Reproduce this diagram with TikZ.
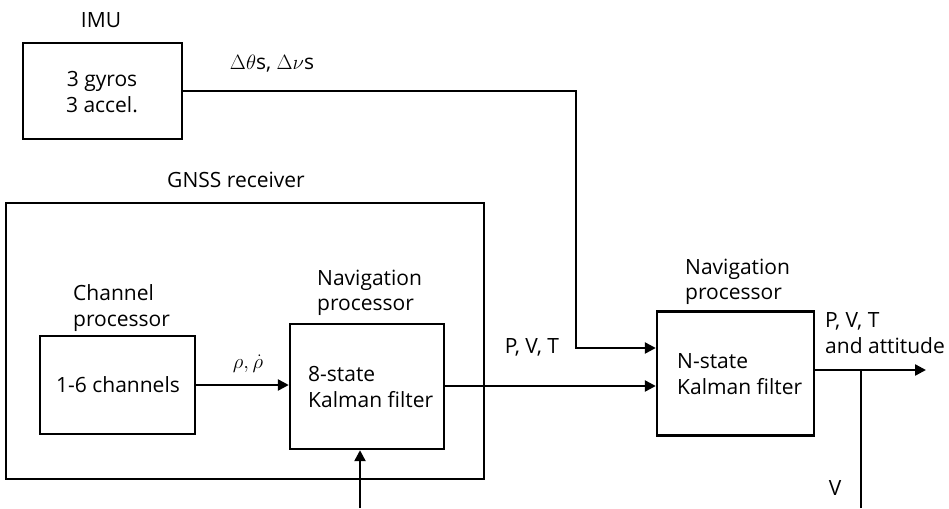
\documentclass[tikz,border=0pt]{standalone}
\usepackage{fontspec}
\setmainfont{Open Sans}
\usetikzlibrary{arrows.meta}
\begin{document}
\begin{tikzpicture}[x=1pt,y=-1pt,
  every node/.style={font=\fontsize{21}{25.5}\selectfont, inner sep=0pt},
  blk/.style={draw, line width=2.4pt, minimum width=#1},
  lbl/.style={align=left, anchor=west},
  ctr/.style={align=center},
  conn/.style={line width=2.4pt},
  arr/.style={conn, -{Triangle[length=11pt,width=11pt]}}]
\useasboundingbox (0,0) rectangle (949,508);
% boxes
\node[blk=159pt, minimum height=96pt] (imu) at (102.5,91) {};
\node[blk=478pt, minimum height=276pt] (gnss) at (245,341) {};
\node[blk=155pt, minimum height=98pt] (chan) at (117.5,385) {};
\node[blk=154pt, minimum height=125pt] (nav) at (367,386.5) {};
\node[blk=157pt, minimum height=124pt] (nst) at (735.5,373.5) {};
% texts
\node (timu) at (101,20) {IMU};
\node[ctr] (tgy) at (102,92) {3 gyros\\3 accel.};
\node (tdel) at (272,64) {$\Delta\theta$s, $\Delta\nu$s};
\node (tgnss) at (236,180) {GNSS receiver};
\node[lbl] (tchp) at (73,308) {Channel\\processor};
\node (tch) at (118,385) {1-6 channels};
\node[lbl] (tnp1) at (317,293) {Navigation\\processor};
\node[lbl] (tkf1) at (308,387) {8-state\\Kalman filter};
\node (trho) at (248,364) {$\rho,\dot{\rho}$};
\node (tpvt) at (532,347) {P, V, T};
\node[lbl] (tnp2) at (685,282) {Navigation\\processor};
\node[lbl] (tkf2) at (677,374) {N-state\\Kalman filter};
\node[lbl] (tout) at (825,333) {P, V, T\\and attitude};
\node (tv) at (835,488) {V};
% connectors
\coordinate (turn) at (576,348);
\coordinate (gin) at (360,508);
\coordinate (out) at (926,370);
\coordinate (vin) at (861,508);
\draw[arr] (imu.east) -| (turn) -- (turn -| nst.west);
\draw[arr] (chan.east) -- (chan.east -| nav.west);
\draw[arr] (nav.east |- 0,386) -- (nst.west |- 0,386);
\draw[arr] (gin) -- (gin |- nav.south);
\draw[arr] (nst.east |- out) -- (out);
\draw[conn] (vin) -- (vin |- out);
\end{tikzpicture}
\end{document}
